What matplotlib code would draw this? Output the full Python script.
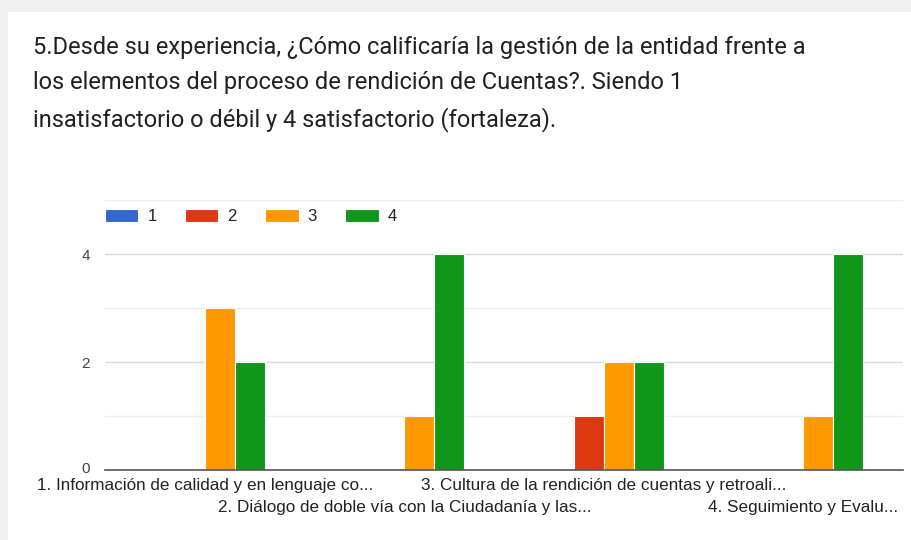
import numpy as np
import matplotlib.pyplot as plt
import matplotlib.transforms as mtransforms
from matplotlib.patches import Rectangle

plt.rcParams['font.family'] = ['Liberation Sans', 'DejaVu Sans']

categories = [
    "1. Información de calidad y en lenguaje co...",
    "2. Diálogo de doble vía con la Ciudadanía y las...",
    "3. Cultura de la rendición de cuentas y retroali...",
    "4. Seguimiento y Evalu...",
]
series_names = ["1", "2", "3", "4"]
vals_1 = [0, 0, 0, 0]
vals_2 = [0, 0, 1, 0]
vals_3 = [3, 1, 2, 1]
vals_4 = [2, 4, 2, 4]
colors = ["#3366cc", "#dc3912", "#ff9900", "#109618"]

title = ("5.Desde su experiencia, ¿Cómo calificaría la gestión de la entidad frente a\n"
         "los elementos del proceso de rendición de Cuentas?. Siendo 1\n"
         "insatisfactorio o débil y 4 satisfactorio (fortaleza).")

W, H = 911, 540
fig = plt.figure(figsize=(W / 100, H / 100), dpi=100)
fig.patch.set_facecolor("white")

# page background around the card
fig.patches.append(Rectangle((0, 1 - 12 / H), 1, 12 / H, transform=fig.transFigure,
                             facecolor="#f1f1f1", edgecolor="none", zorder=0))
fig.patches.append(Rectangle((0, 0), 8 / W, 1, transform=fig.transFigure,
                             facecolor="#f1f1f1", edgecolor="none", zorder=0))

fig.text(33 / W, 1 - 36 / H, title, fontsize=17.0, family=['Roboto', 'DejaVu Sans'],
         color="#202124", va="top", ha="left", linespacing=1.68)

ax = fig.add_axes([105 / W, 1 - 470 / H, 798 / W, 270 / H])

x = np.arange(len(categories))
bw = 0.15
all_vals = [vals_1, vals_2, vals_3, vals_4]
for i, (name, v, c) in enumerate(zip(series_names, all_vals, colors)):
    ax.bar(x + (i - 1.5) * bw, v, width=bw, color=c, edgecolor="white",
           linewidth=0.8, label=name, zorder=3)

ax.set_xlim(-0.5, 3.5)
ax.set_ylim(0, 5)
ax.set_yticks([0, 2, 4])
ax.set_yticks([1, 3, 5], minor=True)
ax.grid(axis="y", which="major", color="#d9d9d9", linewidth=1, zorder=0)
ax.grid(axis="y", which="minor", color="#eeeeee", linewidth=1, zorder=0)
ax.tick_params(axis="y", which="both", length=0, pad=11, labelsize=11, labelcolor="#444444")
ax.tick_params(axis="x", length=0, pad=6, labelsize=12.3, labelcolor="#222222")

ax.set_xticks(x)
ax.set_xticklabels(categories)
# alternate labels drop to a second row
for i, tick in enumerate(ax.xaxis.get_major_ticks()):
    if i % 2 == 1:
        tick.set_pad(6 + 15.5)

# nudge the "0" label up a little so it clears the first category label
zero_lab = ax.get_yticklabels()[0]
zero_lab.set_transform(zero_lab.get_transform() +
                       mtransforms.ScaledTranslation(0, 2 / 72, fig.dpi_scale_trans))

for s in ["top", "right", "left"]:
    ax.spines[s].set_visible(False)
ax.spines["bottom"].set_color("#555555")
ax.spines["bottom"].set_linewidth(1.2)
ax.spines["bottom"].set_zorder(4)

leg = ax.legend(loc="upper left", bbox_to_anchor=(0.0, 1 - 9 / 270), ncol=4, frameon=False,
                handlelength=2.0, handleheight=0.85, handletextpad=0.55,
                columnspacing=1.7, fontsize=12, borderaxespad=0.0, borderpad=0.0)
for t in leg.get_texts():
    t.set_color("#222222")

fig.savefig("out.png", dpi=100, facecolor=fig.get_facecolor())
